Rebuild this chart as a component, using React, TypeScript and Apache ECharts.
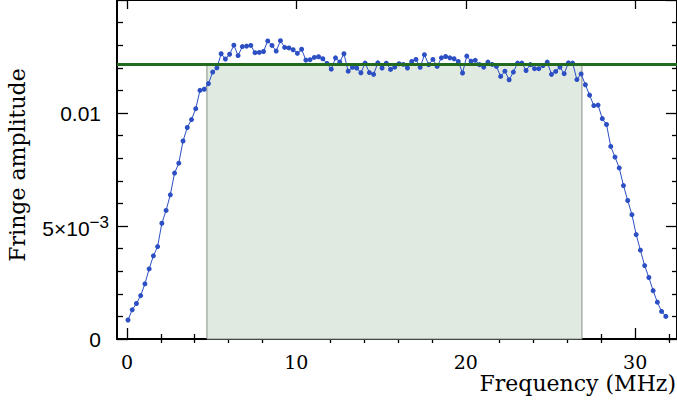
import React, { useEffect, useRef } from "react";
import * as echarts from "echarts";

// Channel centre frequencies (MHz)
const FREQ = [
  0.06, 0.31, 0.56, 0.81, 1.06, 1.31, 1.56, 1.81,
  2.06, 2.31, 2.56, 2.81, 3.06, 3.31, 3.56, 3.81,
  4.06, 4.31, 4.56, 4.81, 5.06, 5.31, 5.56, 5.81,
  6.06, 6.31, 6.56, 6.81, 7.06, 7.31, 7.56, 7.81,
  8.06, 8.31, 8.56, 8.81, 9.06, 9.31, 9.56, 9.81,
  10.06, 10.31, 10.56, 10.81, 11.06, 11.31, 11.56, 11.81,
  12.06, 12.31, 12.56, 12.81, 13.06, 13.31, 13.56, 13.81,
  14.06, 14.31, 14.56, 14.81, 15.06, 15.31, 15.56, 15.81,
  16.06, 16.31, 16.56, 16.81, 17.06, 17.31, 17.56, 17.81,
  18.06, 18.31, 18.56, 18.81, 19.06, 19.31, 19.56, 19.81,
  20.06, 20.31, 20.56, 20.81, 21.06, 21.31, 21.56, 21.81,
  22.06, 22.31, 22.56, 22.81, 23.06, 23.31, 23.56, 23.81,
  24.06, 24.31, 24.56, 24.81, 25.06, 25.31, 25.56, 25.81,
  26.06, 26.31, 26.56, 26.81, 27.06, 27.31, 27.56, 27.81,
  28.06, 28.31, 28.56, 28.81, 29.06, 29.31, 29.56, 29.81,
  30.06, 30.31, 30.56, 30.81, 31.06, 31.31, 31.56, 31.81,
];

// Fringe amplitude per channel
const AMPLITUDE = [
  0.00084, 0.00129, 0.00157, 0.00192, 0.00244, 0.0031, 0.00368, 0.00409,
  0.00512, 0.00569, 0.00638, 0.00734, 0.00778, 0.00876, 0.00936, 0.00971,
  0.01019, 0.011, 0.01105, 0.0113, 0.01181, 0.012, 0.01262, 0.01239,
  0.0126, 0.013, 0.01254, 0.01294, 0.01296, 0.01299, 0.01267, 0.01268,
  0.01272, 0.01319, 0.01299, 0.01274, 0.0132, 0.0129, 0.01288, 0.0128,
  0.01264, 0.01282, 0.01234, 0.01236, 0.01246, 0.01249, 0.0124, 0.01219,
  0.01194, 0.01244, 0.01226, 0.01262, 0.01185, 0.01202, 0.01199, 0.01178,
  0.01221, 0.01179, 0.01171, 0.01222, 0.01199, 0.0122, 0.01193, 0.01203,
  0.01218, 0.01215, 0.01199, 0.01228, 0.01237, 0.01202, 0.01258, 0.01214,
  0.01237, 0.01206, 0.01244, 0.0125, 0.01244, 0.0124, 0.01228, 0.01177,
  0.01252, 0.01229, 0.01233, 0.01214, 0.01203, 0.01225, 0.01215, 0.01206,
  0.01162, 0.01185, 0.01147, 0.01181, 0.01221, 0.01221, 0.01188, 0.01214,
  0.01196, 0.01196, 0.0121, 0.01225, 0.01171, 0.01184, 0.01203, 0.01174,
  0.01222, 0.01221, 0.01148, 0.01173, 0.01125, 0.01079, 0.01033, 0.01035,
  0.00975, 0.00949, 0.00852, 0.00805, 0.00757, 0.00679, 0.00613, 0.0055,
  0.00462, 0.00393, 0.00325, 0.00272, 0.00214, 0.00163, 0.00122, 0.001,
];

const X_MAJOR_TICKS = [0, 10, 20, 30];
const X_MINOR_TICKS = [2, 4, 6, 8, 12, 14, 16, 18, 22, 24, 26, 28, 32];
const X_MIN = -0.588;
const X_MAX = 32.47;
const Y_MIN = 0;
const Y_MAX = 0.015;
const Y_INTERVAL = 0.005;

const BAND_START = 4.72;
const BAND_END = 26.86;
const THRESHOLD = 0.01215;

const BLUE = "#2c4fc4";
const GREEN = "#226b1e";

export default function App() {
  const ref = useRef<HTMLDivElement>(null);

  useEffect(() => {
    if (!ref.current) return;
    const chart = echarts.init(ref.current, null, { renderer: "svg" });
    const frameLine = { show: true, onZero: false, lineStyle: { color: "#000", width: 2 } };
    const tickStyle = { color: "#000", width: 1.3 };
    const serif = '"DejaVu Serif", serif';
    const sans = '"Liberation Sans", Arial, sans-serif';

    const baseX = (position: string, extra: any) => ({
      type: "value",
      gridIndex: 0,
      position,
      min: X_MIN,
      max: X_MAX,
      splitLine: { show: false },
      ...extra,
    });

    const option: any = {
      animation: false,
      grid: { left: 117, top: 0, width: 562, height: 339, containLabel: false },
      xAxis: [
        baseX("bottom", {
          axisLine: frameLine,
          axisTick: { show: true, inside: true, length: 11, lineStyle: tickStyle, customValues: X_MAJOR_TICKS },
          axisLabel: {
            show: true,
            customValues: X_MAJOR_TICKS,
            margin: 13,
            color: "#000",
            fontFamily: serif,
            fontSize: 19,
          },
        }),
        baseX("bottom", {
          axisLine: { show: false },
          axisTick: { show: true, inside: true, length: 5, lineStyle: tickStyle, customValues: X_MINOR_TICKS },
          axisLabel: { show: false },
        }),
        baseX("top", {
          axisLine: frameLine,
          axisTick: { show: true, inside: true, length: 9, lineStyle: tickStyle, customValues: X_MAJOR_TICKS },
          axisLabel: { show: false },
        }),
        baseX("top", {
          axisLine: { show: false },
          axisTick: { show: true, inside: true, length: 4, lineStyle: tickStyle, customValues: X_MINOR_TICKS },
          axisLabel: { show: false },
        }),
      ],
      yAxis: [
        {
          type: "value",
          position: "left",
          min: Y_MIN,
          max: Y_MAX,
          interval: Y_INTERVAL,
          axisLine: frameLine,
          axisTick: { show: true, inside: true, length: 11, lineStyle: tickStyle },
          minorTick: { show: true, splitNumber: 5, length: 6, lineStyle: tickStyle },
          splitLine: { show: false },
          axisLabel: {
            margin: 8,
            color: "#000",
            fontFamily: sans,
            fontSize: 21,
            formatter: (v: number) => {
              if (Math.abs(v) < 1e-12) return "{a|0}";
              if (Math.abs(v - 0.005) < 1e-9) return "{b|5×10}{s|\u22123}";
              if (Math.abs(v - 0.01) < 1e-9) return "{a|0.01}";
              return "";
            },
            rich: {
              a: { fontFamily: sans, fontSize: 21, color: "#000", padding: [0, 8, 0, 0] },
              b: { fontFamily: sans, fontSize: 21, color: "#000", lineHeight: 25, verticalAlign: "bottom" },
              s: { fontFamily: sans, fontSize: 17, color: "#000", lineHeight: 17, verticalAlign: "top" },
            },
          },
        },
        {
          type: "value",
          position: "right",
          min: Y_MIN,
          max: Y_MAX,
          interval: Y_INTERVAL,
          axisLine: frameLine,
          axisTick: { show: true, inside: true, length: 11, lineStyle: tickStyle },
          minorTick: { show: true, splitNumber: 5, length: 5, lineStyle: tickStyle },
          splitLine: { show: false },
          axisLabel: { show: false },
        },
      ],
      series: [
        {
          type: "line",
          xAxisIndex: 0,
          yAxisIndex: 0,
          data: [],
          z: 1,
          silent: true,
          markArea: {
            silent: true,
            precision: 6,
            itemStyle: { color: "#e1eae0", borderColor: "#868f86", borderWidth: 1 },
            data: [[{ xAxis: BAND_START, yAxis: 0 }, { xAxis: BAND_END, yAxis: THRESHOLD }]],
          },
        },
        {
          type: "line",
          name: "Fringe amplitude",
          xAxisIndex: 0,
          yAxisIndex: 0,
          data: FREQ.map((f, i) => [f, AMPLITUDE[i]]),
          symbol: "circle",
          symbolSize: 5,
          showSymbol: true,
          lineStyle: { color: BLUE, width: 1 },
          itemStyle: { color: BLUE },
          z: 2,
          silent: true,
        },
        {
          type: "line",
          xAxisIndex: 0,
          yAxisIndex: 0,
          data: [],
          z: 3,
          silent: true,
          markLine: {
            silent: true,
            precision: 6,
            symbol: ["none", "none"],
            label: { show: false },
            lineStyle: { color: GREEN, width: 3, type: "solid" },
            data: [{ yAxis: THRESHOLD }],
          },
        },
      ],
      graphic: [
        {
          type: "text",
          x: 17,
          y: 165,
          rotation: Math.PI / 2,
          style: {
            text: "Fringe amplitude",
            font: `22px ${serif}`,
            fill: "#000",
            align: "center",
            verticalAlign: "middle",
            textAlign: "center",
            textVerticalAlign: "middle",
          },
        },
        {
          type: "text",
          x: 676,
          y: 383,
          style: {
            text: "Frequency (MHz)",
            font: `22px ${serif}`,
            fill: "#000",
            align: "right",
            verticalAlign: "middle",
            textAlign: "right",
            textVerticalAlign: "middle",
          },
        },
      ],
    };

    chart.setOption(option);
    return () => chart.dispose();
  }, []);

  return (
    <div
      ref={ref}
      style={{ position: "absolute", left: 0, top: 0, width: 677, height: 403 }}
    />
  );
}
